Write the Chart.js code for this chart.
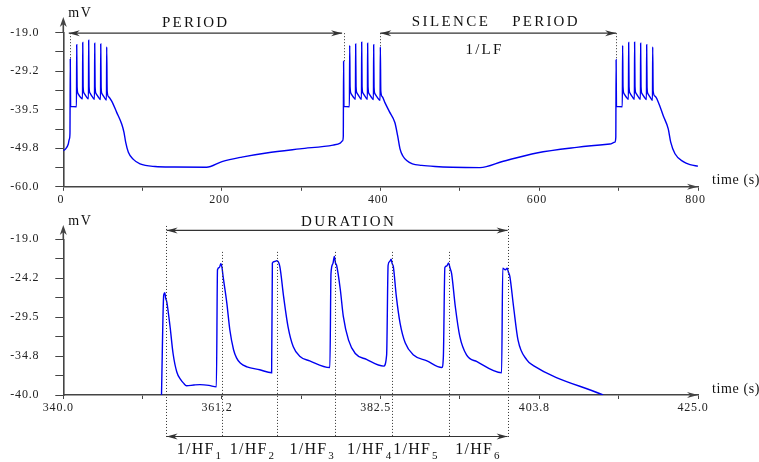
<!DOCTYPE html>
<html>
<head>
<meta charset="utf-8">
<script src="https://cdn.jsdelivr.net/npm/chart.js@4.4.1/dist/chart.umd.min.js"></script>
<style>
  html, body { margin: 0; padding: 0; background: #fff; }
  #wrap { position: relative; width: 759px; height: 462px; }
  .panel { position: absolute; left: 0; width: 759px; }
  #topBox { top: 0; height: 210px; }
  #botBox { top: 210px; height: 252px; }
</style>
</head>
<body>
<div id="wrap">
  <div class="panel" id="topBox"><canvas id="topChart"></canvas></div>
  <div class="panel" id="botBox"><canvas id="botChart"></canvas></div>
</div>
<script>
"use strict"

// Top trace: three bursts over 800 s
const topTime = [
  0, 3, 6.3, 7.6, 8.4, 8.8, 9.2, 16.6,
  16.9, 17.4, 18.6, 21.4, 24.2,
  24.5, 25.0, 26.2, 29.0, 31.7,
  32.0, 32.5, 33.7, 36.5, 39.3,
  39.6, 40.1, 41.3, 44.1, 46.9,
  47.2, 47.7, 48.9, 51.7, 54.4,
  54.7, 55.3, 57.0, 61.0, 67.3, 73.6, 76.5, 78.6, 82.0, 88.3, 96.7, 115.6, 140, 180.5,
  200, 225, 256, 298, 340, 349, 351.8, 352.9,
  353.3, 353.7, 360.6,
  361.0, 361.5, 362.7, 365.5, 368.2,
  368.5, 369.0, 370.2, 373.0, 375.8,
  376.1, 376.6, 377.8, 380.6, 383.3,
  383.6, 384.1, 385.3, 388.1, 390.9,
  391.2, 391.7, 392.9, 395.8, 399.3,
  399.6, 400.2, 402.0, 405.4, 411.0, 417.9, 421.4, 424.4, 428.0, 432.8, 440.0, 451.7, 468.5, 490.0, 525.2,
  554.6, 596.7, 647.0, 689.0, 695.3, 696.4,
  696.8, 697.2, 704.6,
  705.0, 705.5, 706.7, 709.5, 712.3,
  712.6, 713.1, 714.3, 717.1, 719.8,
  720.1, 720.6, 721.8, 724.6, 727.4,
  727.7, 728.2, 729.4, 732.2, 735.0,
  735.3, 735.8, 737.0, 739.8, 742.6,
  742.9, 743.5, 745.8, 750.0, 756.2, 762.5, 765.6, 771.0, 781.4, 790.0, 800.0
];
const topMv = [
  -50.4, -49.9, -48.6, -47.3, -45.8, -26.0, -38.6, -38.7,
  -22.2, -33.4, -35.2, -36.1, -36.6,
  -21.6, -33.3, -35.1, -36.0, -36.6,
  -21.0, -33.3, -35.1, -36.0, -36.7,
  -21.8, -33.4, -35.2, -36.1, -36.8,
  -22.0, -33.5, -35.3, -36.2, -36.9,
  -22.8, -34.5, -36.0, -37.2, -40.2, -43.3, -45.5, -48.1, -50.8, -52.7, -53.9, -54.6, -54.75, -54.8,
  -53.3, -52.1, -51.0, -49.9, -48.9, -48.4, -47.8, -46.6,
  -26.6, -38.6, -38.7,
  -22.4, -33.4, -35.2, -36.1, -36.7,
  -22.0, -33.3, -35.1, -36.0, -36.7,
  -21.5, -33.3, -35.1, -36.0, -36.7,
  -21.8, -33.4, -35.2, -36.1, -36.8,
  -22.2, -33.5, -35.3, -36.2, -37.0,
  -22.8, -34.5, -36.0, -37.6, -40.0, -42.9, -46.4, -49.9, -51.8, -53.0, -53.9, -54.3, -54.6, -54.8, -54.9,
  -53.2, -51.0, -49.5, -48.6, -48.1, -46.8,
  -26.2, -38.6, -38.7,
  -22.4, -33.4, -35.2, -36.1, -36.7,
  -21.6, -33.3, -35.1, -36.0, -36.7,
  -21.5, -33.3, -35.1, -36.0, -36.7,
  -21.8, -33.4, -35.2, -36.1, -36.8,
  -22.2, -33.5, -35.3, -36.2, -37.0,
  -22.8, -34.5, -35.9, -37.5, -41.1, -44.6, -48.1, -51.2, -53.3, -54.1, -54.5
];

// Bottom trace: close-up of the second burst
const botTime = [
  353.15, 353.45, 353.6, 353.7, 353.85, 354.3, 354.7, 355.2, 355.7, 356.1, 356.5, 357.5, 358.3, 359.5, 360.5,
  360.65, 360.9, 361.1, 361.25, 361.4, 361.9, 362.3, 362.8, 363.2, 363.7, 364.6, 366.3, 367.9,
  368.0, 368.3, 368.6, 369.0, 369.5, 370.1, 370.8, 371.7, 373.0, 375.7,
  375.85, 376.1, 376.3, 376.45, 376.6, 377.1, 377.5, 378.2, 379.1, 380.6, 382.9, 383.3,
  383.5, 383.7, 383.9, 384.05, 384.2, 384.6, 385.1, 385.8, 386.9, 388.7, 390.7, 390.9,
  391.1, 391.35, 391.6, 391.8, 392.0, 392.5, 393.1, 394.0, 395.4, 398.7,
  398.85, 399.2, 399.45, 399.6, 399.8, 400.3, 400.9, 402.1, 402.9, 412.3
];
const botMv = [
  -40.0, -26.5, -26.2, -26.9, -27.4, -30.8, -34.4, -36.9, -37.9, -38.4, -38.75, -38.65, -38.6, -38.7, -38.9,
  -23.1, -22.8, -22.3, -22.8, -24.0, -27.6, -31.2, -33.9, -35.0, -35.7, -36.2, -36.6, -37.0,
  -22.2, -22.0, -21.9, -22.7, -26.7, -30.8, -33.5, -34.8, -35.4, -36.3,
  -23.6, -22.3, -21.3, -22.2, -22.5, -25.8, -29.4, -32.6, -34.4, -35.2, -36.1, -34.6,
  -22.5, -22.0, -21.7, -22.3, -22.7, -26.7, -30.3, -33.0, -34.6, -35.4, -36.3, -34.8,
  -22.8, -22.6, -22.2, -22.9, -23.6, -28.1, -32.1, -34.6, -35.5, -37.0,
  -22.9, -23.1, -22.9, -23.4, -24.0, -28.1, -32.6, -35.3, -36.0, -40.0
];

// Tick values and their labels
const topXTicks = [0, 100, 200, 300, 400, 500, 600, 700, 800];
const topXLabels = ['0', '', '200', '', '400', '', '600', '', '800'];
const topYTicks = [-60, -54.875, -49.75, -44.625, -39.5, -34.375, -29.25, -24.125, -19];
const topYLabels = ['-60.0', '', '-49.8', '', '-39.5', '', '-29.2', '', '-19.0'];
const botXTicks = [340, 350.625, 361.25, 371.875, 382.5, 393.125, 403.75, 414.375, 425];
const botXLabels = ['340.0', '', '361.2', '', '382.5', '', '403.8', '', '425.0'];
const botYTicks = [-40, -37.375, -34.75, -32.125, -29.5, -26.875, -24.25, -21.625, -19];
const botYLabels = ['-40.0', '', '-34.8', '', '-29.5', '', '-24.2', '', '-19.0'];

// Annotation marks (time, mV)
const periodMarks = [8.8, 353.3];
const periodMarkTops = [-26.0, -26.6];
const silenceMarks = [399.6, 696.8];
const silenceMarkTops = [-22.8, -26.2];
const hfMarks = [353.7, 361.2, 368.65, 376.4, 384.0, 391.65, 399.5];
const hfLabelStarts = [355.2, 362.3, 370.3, 378.0, 384.2, 392.5];

const axisColor = '#444';
const noteColor = '#333';
const inkColor = '#111';
const lineBlue = 'rgb(0, 0, 240)';
const serif = "'Liberation Serif', 'Times New Roman', serif";

Chart.defaults.font.family = serif;
Chart.defaults.color = '#222';

function arrowHead(ctx, x, y, angle, len, half) {
  ctx.save();
  ctx.translate(x, y);
  ctx.rotate(angle);
  ctx.beginPath();
  ctx.moveTo(0, 0);
  ctx.lineTo(-len, -half);
  ctx.lineTo(-len * 0.7, 0);
  ctx.lineTo(-len, half);
  ctx.closePath();
  ctx.fill();
  ctx.restore();
}

function dotted(ctx, x, y0, y1) {
  ctx.save();
  ctx.setLineDash([1, 2]);
  ctx.lineWidth = 1;
  ctx.strokeStyle = noteColor;
  const xx = Math.round(x) + 0.5;
  ctx.beginPath(); ctx.moveTo(xx, y0); ctx.lineTo(xx, y1); ctx.stroke();
  ctx.restore();
}

function doubleArrow(ctx, x0, x1, y) {
  ctx.save();
  ctx.strokeStyle = noteColor; ctx.fillStyle = noteColor; ctx.lineWidth = 1.2;
  ctx.beginPath(); ctx.moveTo(x0, y); ctx.lineTo(x1, y); ctx.stroke();
  arrowHead(ctx, x0, y, Math.PI, 11, 3);
  arrowHead(ctx, x1, y, 0, 11, 3);
  ctx.restore();
}

function drawText(ctx, str, x, y, size, spacing, align) {
  ctx.font = size + 'px ' + serif;
  ctx.letterSpacing = spacing + 'px';
  ctx.textAlign = align || 'center';
  ctx.textBaseline = 'middle';
  ctx.fillStyle = inkColor;
  ctx.fillText(str, x, y);
}

// axis arrows + axis titles
const axisArrows = {
  id: 'axisArrows',
  beforeDraw(chart) {
    chart.ctx.letterSpacing = '0.8px';
  },
  afterDraw(chart, args, opts) {
    const {ctx, chartArea: a} = chart;
    const tip = a.top - opts.rise;
    ctx.save();
    ctx.strokeStyle = axisColor; ctx.fillStyle = axisColor; ctx.lineWidth = 1.6;
    ctx.beginPath(); ctx.moveTo(a.left, a.top); ctx.lineTo(a.left, tip + 4); ctx.stroke();
    arrowHead(ctx, a.left, tip, -Math.PI / 2, 10, 3.5);
    arrowHead(ctx, a.right, a.bottom, 0, 11, 3);
    drawText(ctx, 'mV', a.left + 5, tip - 4, 14, 1.5, 'left');
    drawText(ctx, 'time (s)', a.right + 14, a.bottom - 6, 14, 0.6, 'left');
    ctx.restore();
  }
};

const topNotes = {
  id: 'topNotes',
  afterDraw(chart) {
    const {ctx, scales: {x, y}} = chart;
    const top = y.getPixelForValue(-19) + 0.5;
    ctx.save();
    periodMarks.forEach((t, i) => dotted(ctx, x.getPixelForValue(t), top, y.getPixelForValue(periodMarkTops[i])));
    silenceMarks.forEach((t, i) => dotted(ctx, x.getPixelForValue(t), top, y.getPixelForValue(silenceMarkTops[i])));
    doubleArrow(ctx, x.getPixelForValue(periodMarks[0]) - 1.5, x.getPixelForValue(periodMarks[1]) - 1.5, top);
    doubleArrow(ctx, x.getPixelForValue(silenceMarks[0]), x.getPixelForValue(silenceMarks[1]), top);
    drawText(ctx, 'PERIOD', x.getPixelForValue(166.9), top - 10.5, 15, 2.2);
    drawText(ctx, 'SILENCE', x.getPixelForValue(488.7), top - 11.5, 15, 2.4);
    drawText(ctx, 'PERIOD', x.getPixelForValue(608.4), top - 11.5, 15, 2.2);
    drawText(ctx, '1/LF', x.getPixelForValue(530.9), top + 16.5, 15, 2.2);
    ctx.restore();
  }
};

const botNotes = {
  id: 'botNotes',
  afterDraw(chart) {
    const {ctx, scales: {x, y}} = chart;
    const px = t => x.getPixelForValue(t);
    const py = v => y.getPixelForValue(v);
    const yDur = py(-17.8), yHf = py(-45.6);
    const last = hfMarks.length - 1;
    ctx.save();
    hfMarks.forEach((t, i) => {
      const outer = i === 0 || i === last;
      dotted(ctx, px(t), outer ? py(-17.2) : py(-20.7), yHf + 1);
    });
    doubleArrow(ctx, px(hfMarks[0]) + 1, px(hfMarks[last]), yDur);
    doubleArrow(ctx, px(hfMarks[0]) + 1, px(hfMarks[last]), yHf);
    drawText(ctx, 'DURATION', px(378.2), yDur - 8.5, 15, 2.3);
    hfLabelStarts.forEach((t, i) => {
      const x0 = px(t);
      drawText(ctx, '1/HF', x0, yHf + 13, 16, 1.2, 'left');
      const w = ctx.measureText('1/HF').width;
      drawText(ctx, String(i + 1), x0 + w + 1, yHf + 19.5, 11, 0.5, 'left');
    });
    ctx.restore();
  }
};

function makeChart(id, c) {
  return new Chart(document.getElementById(id), {
    type: 'line',
    data: {
      datasets: [{
        data: c.time.map((t, i) => ({x: t, y: c.mv[i]})),
        borderColor: lineBlue,
        borderWidth: 1.4,
        pointRadius: 0,
        cubicInterpolationMode: 'monotone',
        fill: false
      }]
    },
    options: {
      responsive: true,
      maintainAspectRatio: false,
      animation: false,
      layout: { padding: c.padding, autoPadding: false },
      plugins: {
        legend: { display: false },
        tooltip: { enabled: false },
        axisArrows: { rise: c.rise }
      },
      scales: {
        x: {
          type: 'linear', min: c.xTicks[0], max: c.xTicks[c.xTicks.length - 1],
          afterBuildTicks: s => { s.ticks = c.xTicks.map(value => ({value})); },
          afterFit: s => { s.height = c.xHeight; },
          ticks: { callback: (v, i) => c.xLabels[i], font: { size: 12 }, padding: 2, labelOffset: c.labelShift, maxRotation: 0, autoSkip: false },
          grid: { drawOnChartArea: false, tickLength: 4, tickColor: axisColor, tickWidth: 1 },
          border: { color: axisColor, width: 1.6 }
        },
        y: {
          min: c.yTicks[0], max: c.yTicks[c.yTicks.length - 1],
          afterBuildTicks: s => { s.ticks = c.yTicks.map(value => ({value})); },
          afterFit: s => { s.width = 63.3; },
          ticks: { callback: (v, i) => c.yLabels[i], font: { size: 12 }, padding: 16, autoSkip: false },
          grid: { drawOnChartArea: false, tickLength: 8, tickColor: axisColor, tickWidth: 1 },
          border: { color: axisColor, width: 1.6 }
        }
      }
    },
    plugins: [axisArrows, c.notes]
  });
}

makeChart('topChart', {
  time: topTime, mv: topMv,
  xTicks: topXTicks, xLabels: topXLabels, yTicks: topYTicks, yLabels: topYLabels,
  padding: { top: 32.7, right: 61, bottom: 0, left: 0 },
  xHeight: 21.7, rise: 15.7, labelShift: -2.5, notes: topNotes
});

makeChart('botChart', {
  time: botTime, mv: botMv,
  xTicks: botXTicks, xLabels: botXLabels, yTicks: botYTicks, yLabels: botYLabels,
  padding: { top: 29.3, right: 61, bottom: 45, left: 0 },
  xHeight: 22, rise: 14.3, labelShift: -5, notes: botNotes
});
</script>
</body>
</html>
